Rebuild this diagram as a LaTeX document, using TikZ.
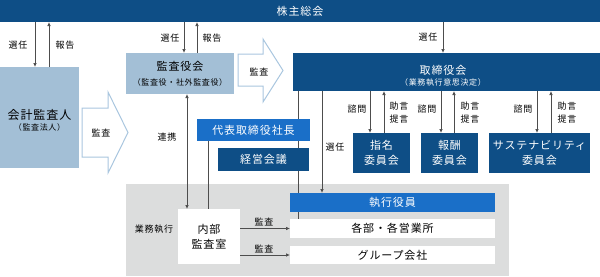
\documentclass[tikz,border=0pt]{standalone}
\usepackage{fontspec}
\setmainfont[LetterSpace=8]{Noto Sans CJK JP}
\usetikzlibrary{arrows.meta}
\pgfdeclarelayer{back}
\pgfdeclarelayer{lines}
\pgfsetlayers{back,lines,main}
\definecolor{dblue}{HTML}{0E4E86}
\definecolor{mblue}{HTML}{1A6FC8}
\definecolor{lblue}{HTML}{A3BFD6}
\definecolor{hcol}{HTML}{A9C6DF}
\definecolor{gcol}{HTML}{DCDDDD}
\definecolor{lcol}{HTML}{4D4D4D}
\tikzset{
 box/.style={inner sep=0pt, outer sep=0pt, anchor=north west, align=center, font=\fontsize{11}{15.5}\selectfont},
 dbox/.style={box, fill=dblue, text=white},
 mbox/.style={box, fill=mblue, text=white},
 lbox/.style={box, fill=lblue, text=black},
 wbox/.style={box, fill=white, text=black},
 conn/.style={draw=lcol, line width=0.7pt},
 arr/.style={conn, -{Latex[length=4pt,width=3.5pt]}},
 darr/.style={conn, {Latex[length=4pt,width=3.5pt]}-{Latex[length=4pt,width=3.5pt]}},
 lbl/.style={inner sep=0pt, align=center, font=\fontsize{9}{13}\selectfont},
 sub/.style={inner sep=0pt, font=\fontsize{8}{10}\selectfont},
 big/.style={inner sep=0pt, font=\fontsize{11}{13}\selectfont},
 hollow/.style={draw=hcol, fill=white, line width=1pt, line join=miter},
}
\begin{document}
\begin{tikzpicture}[x=1pt,y=-1pt]
\useasboundingbox (0,0) rectangle (600,276);
\begin{pgfonlayer}{back}
\node[box, fill=gcol, minimum width=383pt, minimum height=92pt] (gray) at (126,184) {};
\end{pgfonlayer}
% boxes
\node[dbox, minimum width=600pt, minimum height=22pt] (kabu) at (0,0) {株主総会};
\node[lbox, minimum width=79pt, minimum height=101pt] (kaikei) at (0,67) {};
\node[big, font=\fontsize{12}{14}\selectfont] (kaikeit) at (39.5,115) {会計監査人};
\node[sub] (kaikeis) at (39.5,127.5) {（監査法人）};
\node[lbox, minimum width=108pt, minimum height=41pt] (kansa) at (126,53) {};
\node[big] (kansat) at (180,66.5) {監査役会};
\node[sub] (kansas) at (180,82) {（監査役・社外監査役）};
\node[dbox, minimum width=307pt, minimum height=38pt] (tori) at (293,53) {};
\node[big, text=white] (torit) at (443,70) {取締役会};
\node[sub, text=white] (toris) at (443,82.5) {（業務執行意思決定）};
\node[mbox, minimum width=113pt, minimum height=22pt] (daihyo) at (197,119) {代表取締役社長};
\node[dbox, minimum width=91pt, minimum height=23pt] (keiei) at (218,148) {経営会議};
\node[dbox, minimum width=57pt, minimum height=40pt] (shimei) at (353,133) {指名\\委員会};
\node[dbox, minimum width=57pt, minimum height=40pt] (hoshu) at (421,133) {報酬\\委員会};
\node[dbox, minimum width=101pt, minimum height=40pt] (sust) at (489,133) {サステナビリティ\\委員会};
\node[mbox, minimum width=205pt, minimum height=19pt] (shikko) at (290,193) {執行役員};
\node[wbox, minimum width=205pt, minimum height=19pt] (kakubu) at (290,219) {各部・各営業所};
\node[wbox, minimum width=205pt, minimum height=18pt] (group) at (290,246) {グループ会社};
\node[wbox, minimum width=62pt, minimum height=55pt, font=\fontsize{11}{15}\selectfont] (naibu) at (178,209) {内部\\監査室};
% hollow arrows
\draw[hollow] (82,108) -- (108,108) -- (108,92) -- (128,132.5) -- (108,173) -- (108,157) -- (82,157) -- cycle;
\node[lbl] (a1) at (101,133) {監査};
\draw[hollow] (238,54) -- (263,54) -- (263,39) -- (283,70.5) -- (263,102) -- (263,86) -- (238,86) -- cycle;
\node[lbl] (a2) at (259,72) {監査};
% connectors
\begin{pgfonlayer}{lines}
\draw[conn] ([xshift=5pt]tori.south west) -- ([xshift=8pt]kakubu.north west);
\end{pgfonlayer}
\draw[arr] ([xshift=35pt]kabu.south west) -- ([xshift=35pt]kaikei.north west);
\draw[arr] ([xshift=49pt]kaikei.north west) -- ([xshift=49pt]kabu.south west);
\draw[arr] ([xshift=184pt]kabu.south west) -- ([xshift=58pt]kansa.north west);
\draw[arr] ([xshift=71pt]kansa.north west) -- ([xshift=197pt]kabu.south west);
\draw[arr] ([xshift=443pt]kabu.south west) -- ([xshift=150pt]tori.north west);
\draw[darr] ([xshift=61pt]kansa.south west) -- ([xshift=9pt]naibu.north west);
\draw[conn] ([xshift=11pt]daihyo.south west) -- ([xshift=30pt]naibu.north west);
\draw[arr] ([xshift=29pt]tori.south west) -- ([xshift=32pt]shikko.north west);
\draw[arr] ([xshift=77pt]tori.south west) -- ([xshift=17pt]shimei.north west);
\draw[arr] ([xshift=31pt]shimei.north west) -- ([xshift=91pt]tori.south west);
\draw[arr] ([xshift=148pt]tori.south west) -- ([xshift=20pt]hoshu.north west);
\draw[arr] ([xshift=33pt]hoshu.north west) -- ([xshift=161pt]tori.south west);
\draw[arr] ([xshift=244pt]tori.south west) -- ([xshift=48pt]sust.north west);
\draw[arr] ([xshift=62pt]sust.north west) -- ([xshift=258pt]tori.south west);
\draw[arr] ([yshift=-19.5pt]naibu.north east) -- (kakubu.west);
\draw[arr] ([yshift=-46pt]naibu.north east) -- (group.west);
% labels
\node[lbl] (l1) at (18,45) {選任};
\node[lbl] (l2) at (65,45) {報告};
\node[lbl] (l3) at (170,38) {選任};
\node[lbl] (l4) at (212,38) {報告};
\node[lbl] (l5) at (428,37) {選任};
\node[lbl] (l6) at (167,137) {連携};
\node[lbl] (l7) at (335,147) {選任};
\node[lbl] (l8) at (357,109) {諮問};
\node[lbl] (l9) at (399,112.5) {助言\\提言};
\node[lbl] (l10) at (427,109) {諮問};
\node[lbl] (l11) at (470,112.5) {助言\\提言};
\node[lbl] (l12) at (523,109) {諮問};
\node[lbl] (l13) at (567,112.5) {助言\\提言};
\node[lbl] (l14) at (154,229) {業務執行};
\node[lbl] (l15) at (264,222) {監査};
\node[lbl] (l16) at (264,249) {監査};
\end{tikzpicture}
\end{document}
